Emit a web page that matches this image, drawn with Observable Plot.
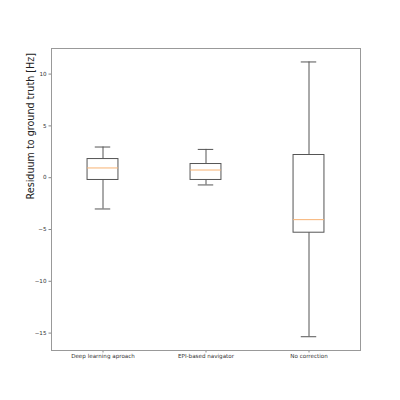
<!DOCTYPE html>
<html>
<head>
<meta charset="utf-8">
<script src="https://cdn.jsdelivr.net/npm/d3@7"></script>
<script src="https://cdn.jsdelivr.net/npm/@observablehq/plot@0.6"></script>
<style>
  html, body { margin: 0; padding: 0; background: #fff; }
  #chart svg { display: block; }
</style>
</head>
<body>
<div id="chart"></div>
<script>
const categories = ["Deep learning aproach", "EPI-based navigator", "No correction"];
const positions = [1, 2, 3];
const whiskerLow = [-3.02, -0.70, -15.35];
const q1 = [-0.22, -0.22, -5.31];
const median = [0.94, 0.74, -4.05];
const q3 = [1.80, 1.32, 2.19];
const whiskerHigh = [2.96, 2.73, 11.17];
const yTicks = [-15, -10, -5, 0, 5, 10];
const yLabel = "Residuum to ground truth [Hz]";

const boxHalf = 0.15;
const capHalf = 0.075;

const data = categories.map((c, i) => ({
  cat: c, pos: positions[i], lo: whiskerLow[i], q1: q1[i], med: median[i], q3: q3[i], hi: whiskerHigh[i]
}));

const boxColor = "#555";
const chart = Plot.plot({
  width: 400,
  height: 400,
  marginLeft: 51,
  marginRight: 40,
  marginTop: 48,
  marginBottom: 50,
  style: { fontFamily: "DejaVu Sans", fontSize: "5.6px", color: "#333", background: "#fff" },
  x: { domain: [0.5, 3.5], label: null },
  y: { domain: [-16.68, 12.47], label: null },
  marks: [
    Plot.ruleX(data, { x: "pos", y1: "lo", y2: "q1", stroke: boxColor, strokeWidth: 1 }),
    Plot.ruleX(data, { x: "pos", y1: "q3", y2: "hi", stroke: boxColor, strokeWidth: 1 }),
    Plot.ruleY(data, { y: "lo", x1: d => d.pos - capHalf, x2: d => d.pos + capHalf, stroke: boxColor, strokeWidth: 1 }),
    Plot.ruleY(data, { y: "hi", x1: d => d.pos - capHalf, x2: d => d.pos + capHalf, stroke: boxColor, strokeWidth: 1 }),
    Plot.rect(data, { x1: d => d.pos - boxHalf, x2: d => d.pos + boxHalf, y1: "q1", y2: "q3", fill: "none", stroke: boxColor, strokeWidth: 1 }),
    Plot.ruleY(data, { y: "med", x1: d => d.pos - boxHalf, x2: d => d.pos + boxHalf, stroke: "#f7b273", strokeWidth: 1 }),
    Plot.axisY({ ticks: yTicks, tickSize: 2.5, tickPadding: 2.5, stroke: "#888", fill: "#333", label: null }),
    Plot.axisX({ ticks: positions, tickFormat: d => categories[d - 1], tickSize: 2.5, tickPadding: 1.5, stroke: "#888", fill: "#333", label: null }),
    Plot.frame({ stroke: "#999", strokeWidth: 1 }),
    Plot.text([yLabel], { frameAnchor: "left", text: d => d, rotate: -90, dx: -21, fontSize: 9.6, fill: "#222" })
  ]
});
document.getElementById("chart").appendChild(chart);
</script>
</body>
</html>
